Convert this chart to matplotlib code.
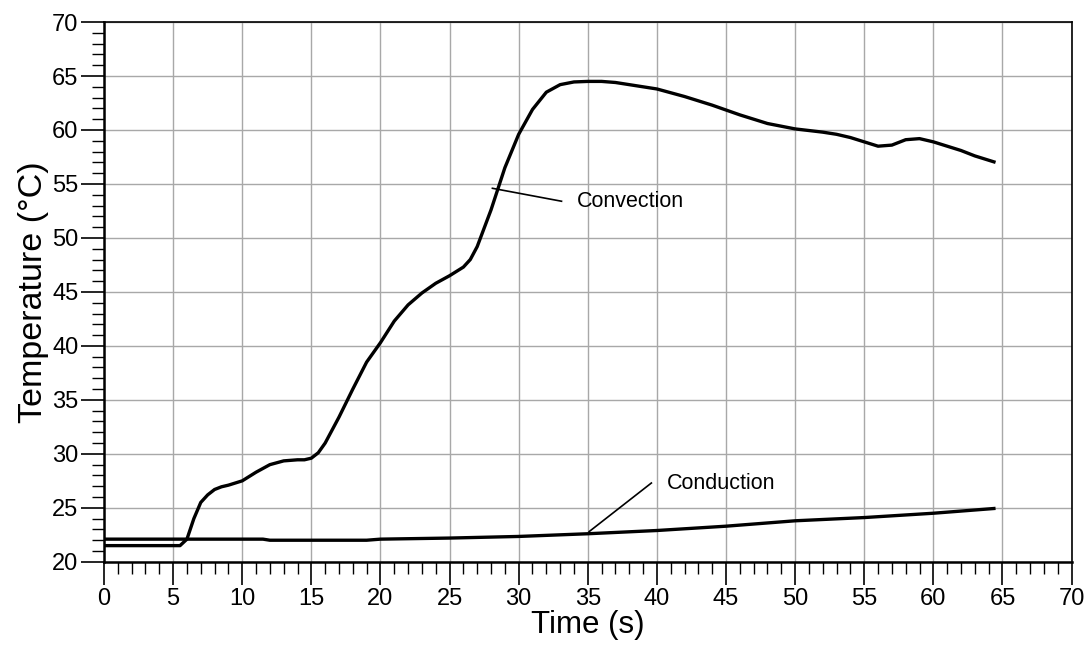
import matplotlib
matplotlib.use("Agg")
import matplotlib.pyplot as plt
from matplotlib.ticker import MultipleLocator

conv_t = [0, 1, 2, 3, 4, 5, 5.5, 6, 6.5, 7, 7.5, 8, 8.5, 9, 10, 11, 12, 13, 14, 14.5, 15, 15.5, 16, 17, 18, 19, 20,
          21, 22, 23, 24, 25, 26, 26.5, 27, 28, 29, 30, 31, 32, 33, 34, 35, 36, 37, 38, 40, 42, 44, 46, 48,
          50, 52, 53, 54, 55, 56, 57, 58, 59, 60, 61, 62, 63, 64, 64.5]
conv_T = [21.5, 21.5, 21.5, 21.5, 21.5, 21.5, 21.5, 22.1, 24.0, 25.5, 26.2, 26.7, 26.95, 27.1, 27.5, 28.3, 29.0, 29.35, 29.45, 29.45, 29.6, 30.1, 31.0, 33.4, 36.0, 38.5, 40.3,
          42.3, 43.8, 44.9, 45.8, 46.5, 47.3, 48.0, 49.2, 52.6, 56.5, 59.6, 61.9, 63.5, 64.2, 64.45, 64.5, 64.5, 64.4, 64.2, 63.8, 63.1, 62.3, 61.4, 60.6,
          60.1, 59.8, 59.6, 59.3, 58.9, 58.5, 58.6, 59.1, 59.2, 58.9, 58.5, 58.1, 57.6, 57.2, 57.0]

cond_t = [0, 5, 10, 11.5, 12, 15, 19, 20, 25, 30, 35, 40, 45, 50, 55, 60, 64.5]
cond_T = [22.1, 22.1, 22.1, 22.1, 22.0, 22.0, 22.0, 22.1, 22.2, 22.35, 22.6, 22.9, 23.3, 23.8, 24.1, 24.5, 24.95]

plt.rcParams['font.family'] = ['Liberation Sans', 'DejaVu Sans']

fig = plt.figure(figsize=(10.89, 6.48), dpi=100)
ax = fig.add_axes([0.0955, 0.133, 0.8885, 0.833])

ax.plot(conv_t, conv_T, color='black', lw=2.4, solid_capstyle='butt')
ax.plot(cond_t, cond_T, color='black', lw=2.4, solid_capstyle='butt')

ax.set_xlim(0, 70)
ax.set_ylim(20, 70)
ax.xaxis.set_major_locator(MultipleLocator(5))
ax.xaxis.set_minor_locator(MultipleLocator(1))
ax.yaxis.set_major_locator(MultipleLocator(5))
ax.yaxis.set_minor_locator(MultipleLocator(1))
ax.grid(True, which='major', color='#a8a8a8', lw=1.0)
ax.set_axisbelow(True)
ax.tick_params(which='major', direction='out', length=16.5, width=1.2, labelsize=17, color='black', pad=2)
ax.tick_params(which='minor', direction='out', length=8.5, width=1.0, color='black')
for s in ax.spines.values():
    s.set_color('black')
    s.set_linewidth(1.2)
ax.spines['left'].set_linewidth(1.8)
ax.spines['bottom'].set_linewidth(1.8)

ax.set_xlabel('Time (s)', fontsize=22.5, labelpad=0)
ax.set_ylabel('Temperature (°C)', fontsize=24.5, labelpad=2)

ax.plot([28.1, 33.1], [54.6, 53.4], color='black', lw=1.2)
ax.text(34.2, 53.4, 'Convection', fontsize=15.5, va='center', ha='left')
ax.plot([35.1, 39.6], [22.8, 27.3], color='black', lw=1.2)
ax.text(40.7, 27.3, 'Conduction', fontsize=15.5, va='center', ha='left')

fig.savefig('out.png', dpi=100)
